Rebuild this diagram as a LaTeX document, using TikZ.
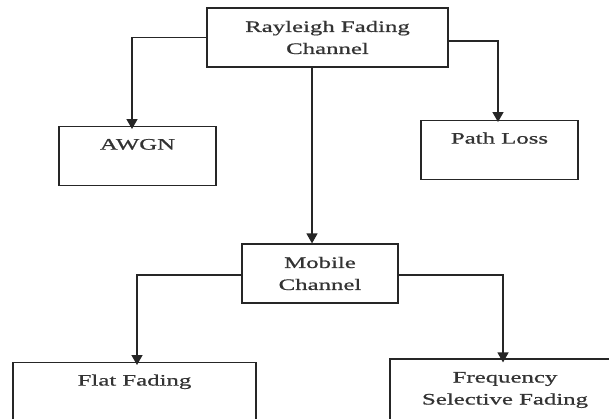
\documentclass[tikz,border=0pt]{standalone}
\usepackage{fontspec}
\setmainfont{Liberation Serif}[FakeStretch=1.55,FakeBold=0.8]
\usetikzlibrary{arrows.meta}
\begin{document}
\begin{tikzpicture}[x=1pt,y=-1pt,
  box/.style={draw=black!85, line width=1.2pt, fill=white, inner sep=0pt,
    font=\fontsize{16}{22}\selectfont, text=black!80},
  onebox/.style={box, text height=23pt, text depth=36pt},
  twobox/.style={box, align=center},
  arr/.style={draw=black!85, line width=1.4pt, -{Triangle[width=11pt,length=10pt]}}]
\useasboundingbox (0,0) rectangle (609,418);
\clip (0,0) rectangle (609,418);
\fill[white] (0,0) rectangle (609,418);

\node[twobox, minimum width=241pt, minimum height=59pt] (top) at (327.5,37.5) {Rayleigh Fading\\Channel};
\node[onebox, minimum width=157pt, anchor=north] (awgn) at (137.5,126) {AWGN};
\node[onebox, minimum width=157pt, anchor=north] (path) at (499.5,120) {Path Loss};
\node[twobox, minimum width=156pt, minimum height=59pt] (mob) at (320,273.5) {Mobile\\Channel};
\node[box, minimum width=243pt, text height=23pt, text depth=45pt, anchor=north] (flat) at (134.5,362) {Flat Fading};
\node[twobox, minimum width=230pt, minimum height=62pt] (freq) at (505,390) {Frequency\\Selective Fading};

\draw[arr] (top.west) -| ([xshift=-5.5pt,yshift=-3pt]awgn.north);
\draw[arr] ([yshift=-3.5pt]top.east) -| ([xshift=-1.5pt,yshift=-2pt]path.north);
\draw[arr] (top.south -| 312,0) -- (mob.north -| 312,0);
\draw[arr] ([yshift=-1.5pt]mob.west) -| ([xshift=2.5pt,yshift=-3pt]flat.north);
\draw[arr] ([yshift=-1.5pt]mob.east) -| ([xshift=-2pt,yshift=-4pt]freq.north);
\end{tikzpicture}
\end{document}
